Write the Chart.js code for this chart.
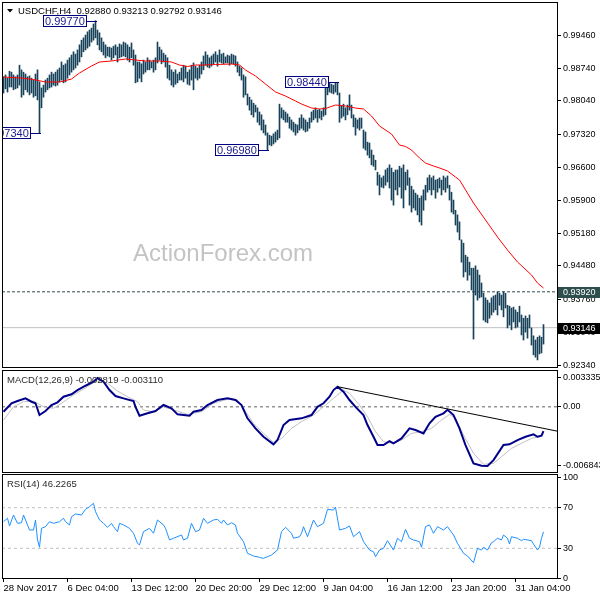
<!DOCTYPE html>
<html>
<head>
<meta charset="utf-8">
<script src="https://cdn.jsdelivr.net/npm/chart.js@4.4.1/dist/chart.umd.min.js"></script>
<style>
  html, body { margin: 0; padding: 0; background: #fff; }
  #wrap { position: relative; width: 600px; height: 600px; overflow: hidden; }
  canvas { position: absolute; left: 0; }
</style>
</head>
<body>
<div id="wrap">
  <canvas id="price" width="600" height="370" style="top:0"></canvas>
  <canvas id="macd" width="600" height="105" style="top:369px"></canvas>
  <canvas id="rsi" width="600" height="127" style="top:473px"></canvas>
</div>
<script>
// USDCHF H4, one bar every 4 hours
const symbol = 'USDCHF,H4';
const lastBar = [0.92880, 0.93213, 0.92792, 0.93146]; // open high low close

const highs = [
  0.9856, 0.9860, 0.9853, 0.9868, 0.9866, 0.9860, 0.9856, 0.9860, 0.9881, 0.9871,
  0.9866, 0.9862, 0.9856, 0.9858, 0.9853, 0.9849, 0.9862, 0.9871, 0.9845, 0.9832,
  0.9838, 0.9849, 0.9853, 0.9860, 0.9866, 0.9862, 0.9866, 0.9871, 0.9875, 0.9888,
  0.9881, 0.9884, 0.9892, 0.9897, 0.9903, 0.9910, 0.9905, 0.9914, 0.9925, 0.9935,
  0.9940, 0.9946, 0.9953, 0.9957, 0.9961, 0.9970, 0.9977, 0.9957, 0.9951, 0.9940,
  0.9931, 0.9925, 0.9920, 0.9920, 0.9918, 0.9922, 0.9925, 0.9920, 0.9927, 0.9925,
  0.9931, 0.9929, 0.9925, 0.9920, 0.9929, 0.9914, 0.9903, 0.9888, 0.9888, 0.9884,
  0.9892, 0.9888, 0.9897, 0.9892, 0.9888, 0.9892, 0.9897, 0.9931, 0.9920, 0.9914,
  0.9907, 0.9903, 0.9897, 0.9881, 0.9871, 0.9866, 0.9871, 0.9862, 0.9866, 0.9875,
  0.9881, 0.9879, 0.9866, 0.9871, 0.9881, 0.9886, 0.9879, 0.9875, 0.9881, 0.9888,
  0.9901, 0.9910, 0.9903, 0.9897, 0.9901, 0.9905, 0.9910, 0.9903, 0.9914, 0.9905,
  0.9907, 0.9899, 0.9903, 0.9901, 0.9905, 0.9903, 0.9901, 0.9888, 0.9879, 0.9875,
  0.9860, 0.9856, 0.9819, 0.9812, 0.9806, 0.9799, 0.9795, 0.9789, 0.9780, 0.9774,
  0.9763, 0.9752, 0.9735, 0.9730, 0.9728, 0.9733, 0.9737, 0.9741, 0.9797, 0.9789,
  0.9784, 0.9780, 0.9776, 0.9769, 0.9763, 0.9758, 0.9754, 0.9752, 0.9767, 0.9774,
  0.9767, 0.9763, 0.9758, 0.9767, 0.9780, 0.9784, 0.9789, 0.9784, 0.9786, 0.9782,
  0.9789, 0.9832, 0.9840, 0.9843, 0.9840, 0.9838, 0.9843, 0.9844, 0.9821, 0.9793,
  0.9797, 0.9789, 0.9795, 0.9817, 0.9795, 0.9774, 0.9767, 0.9763, 0.9767, 0.9767,
  0.9741, 0.9737, 0.9715, 0.9713, 0.9698, 0.9687, 0.9676, 0.9650, 0.9644, 0.9638,
  0.9642, 0.9655, 0.9659, 0.9666, 0.9659, 0.9650, 0.9655, 0.9655, 0.9663, 0.9659,
  0.9666, 0.9650, 0.9655, 0.9638, 0.9620, 0.9612, 0.9605, 0.9601, 0.9594, 0.9599,
  0.9612, 0.9622, 0.9638, 0.9644, 0.9638, 0.9642, 0.9633, 0.9635, 0.9638, 0.9633,
  0.9642, 0.9638, 0.9642, 0.9622, 0.9607, 0.9590, 0.9568, 0.9558, 0.9543, 0.9504,
  0.9497, 0.9471, 0.9467, 0.9456, 0.9443, 0.9443, 0.9448, 0.9439, 0.9428, 0.9411,
  0.9389, 0.9379, 0.9374, 0.9368, 0.9379, 0.9383, 0.9385, 0.9392, 0.9389, 0.9385,
  0.9392, 0.9389, 0.9363, 0.9361, 0.9357, 0.9359, 0.9353, 0.9348, 0.9361, 0.9342,
  0.9335, 0.9340, 0.9335, 0.9342, 0.9314, 0.9297, 0.9288, 0.9294, 0.9297, 0.9294,
  0.93213
];
const lows = [
  0.9821, 0.9830, 0.9823, 0.9834, 0.9834, 0.9828, 0.9830, 0.9832, 0.9838, 0.9812,
  0.9817, 0.9828, 0.9823, 0.9817, 0.9821, 0.9812, 0.9815, 0.9806, 0.9734, 0.9789,
  0.9812, 0.9823, 0.9828, 0.9832, 0.9834, 0.9838, 0.9836, 0.9838, 0.9845, 0.9849,
  0.9843, 0.9845, 0.9853, 0.9860, 0.9866, 0.9871, 0.9875, 0.9881, 0.9888, 0.9899,
  0.9910, 0.9914, 0.9918, 0.9922, 0.9931, 0.9935, 0.9940, 0.9925, 0.9914, 0.9910,
  0.9903, 0.9897, 0.9901, 0.9899, 0.9892, 0.9897, 0.9903, 0.9888, 0.9897, 0.9899,
  0.9901, 0.9899, 0.9892, 0.9888, 0.9897, 0.9881, 0.9843, 0.9845, 0.9853, 0.9845,
  0.9862, 0.9866, 0.9871, 0.9871, 0.9875, 0.9866, 0.9871, 0.9886, 0.9892, 0.9884,
  0.9888, 0.9877, 0.9853, 0.9849, 0.9838, 0.9834, 0.9840, 0.9843, 0.9849, 0.9849,
  0.9845, 0.9853, 0.9840, 0.9838, 0.9849, 0.9828, 0.9853, 0.9849, 0.9853, 0.9862,
  0.9871, 0.9881, 0.9877, 0.9875, 0.9879, 0.9884, 0.9888, 0.9879, 0.9888, 0.9886,
  0.9884, 0.9886, 0.9886, 0.9881, 0.9884, 0.9884, 0.9879, 0.9866, 0.9858, 0.9849,
  0.9812, 0.9817, 0.9795, 0.9784, 0.9774, 0.9769, 0.9780, 0.9758, 0.9752, 0.9741,
  0.9735, 0.9730, 0.9698, 0.9709, 0.9707, 0.9711, 0.9715, 0.9720, 0.9724, 0.9767,
  0.9763, 0.9758, 0.9758, 0.9745, 0.9741, 0.9737, 0.9730, 0.9735, 0.9741, 0.9745,
  0.9741, 0.9737, 0.9739, 0.9745, 0.9758, 0.9763, 0.9767, 0.9758, 0.9767, 0.9763,
  0.9771, 0.9774, 0.9817, 0.9823, 0.9821, 0.9819, 0.9823, 0.9817, 0.9758, 0.9767,
  0.9771, 0.9763, 0.9774, 0.9784, 0.9767, 0.9748, 0.9730, 0.9745, 0.9741, 0.9745,
  0.9702, 0.9698, 0.9687, 0.9681, 0.9666, 0.9663, 0.9655, 0.9622, 0.9601, 0.9618,
  0.9616, 0.9622, 0.9629, 0.9616, 0.9590, 0.9579, 0.9612, 0.9601, 0.9618, 0.9594,
  0.9573, 0.9612, 0.9622, 0.9579, 0.9564, 0.9573, 0.9568, 0.9558, 0.9543, 0.9536,
  0.9568, 0.9590, 0.9607, 0.9612, 0.9601, 0.9612, 0.9594, 0.9607, 0.9616, 0.9601,
  0.9612, 0.9607, 0.9616, 0.9590, 0.9564, 0.9560, 0.9536, 0.9521, 0.9504, 0.9456,
  0.9424, 0.9435, 0.9417, 0.9428, 0.9396, 0.9290, 0.9385, 0.9374, 0.9379, 0.9381,
  0.9331, 0.9327, 0.9325, 0.9335, 0.9342, 0.9348, 0.9353, 0.9342, 0.9363, 0.9353,
  0.9338, 0.9357, 0.9314, 0.9320, 0.9310, 0.9327, 0.9314, 0.9316, 0.9327, 0.9299,
  0.9288, 0.9305, 0.9292, 0.9314, 0.9277, 0.9256, 0.9251, 0.9245, 0.9258, 0.9260,
  0.92792
];

// red moving average, read at some bars
const maIdx = [0, 9, 15, 21, 28, 34, 38, 44, 48, 54, 61, 66, 71, 78, 84, 88, 92, 96, 101, 106,
  114, 118, 121, 126, 131, 136, 141, 146, 149, 154, 158, 161, 166, 171, 176, 180, 184, 188, 194, 198,
  201, 204, 208, 211, 215, 218, 222, 226, 228, 235, 241, 247, 252, 257, 264, 267, 270];
const maVal = [0.98555, 0.98534, 0.98501, 0.98447, 0.98447, 0.98512, 0.98642, 0.98793, 0.98879, 0.98901,
  0.98944, 0.98922, 0.98901, 0.98901, 0.98879, 0.98814, 0.98782, 0.98814, 0.98814, 0.98825,
  0.98836, 0.98814, 0.98706, 0.98577, 0.98404, 0.98232, 0.98145, 0.98037, 0.97973, 0.97886,
  0.97865, 0.97876, 0.97951, 0.97930, 0.97886, 0.97865, 0.97714, 0.97498, 0.97325, 0.97088,
  0.97056, 0.96980, 0.96807, 0.96699, 0.96635, 0.96592, 0.96527, 0.96397, 0.96333, 0.95836,
  0.95470, 0.95102, 0.94822, 0.94563, 0.94283, 0.94110, 0.94002];

// marked highs / lows
const markIdx = [46, 18, 132, 167];
const markPrice = [0.99770, 0.97340, 0.96980, 0.98440];

// horizontal levels: support line and last price
const levels = [0.93920, 0.93146];
const priceTicks = [0.92340, 0.93040, 0.93760, 0.94480, 0.95180, 0.95900, 0.96600, 0.97320, 0.98040, 0.98740, 0.99460];

// MACD(12,26,9)
const macdIdx = [0, 4, 7, 11, 14, 16, 18, 21, 24, 27, 30, 34, 37, 41, 45, 47, 50, 53, 56, 60,
  65, 66, 68, 72, 76, 80, 84, 87, 93, 95, 99, 102, 107, 112, 116, 119, 122, 126, 130, 135,
  137, 140, 143, 149, 154, 157, 160, 163, 165, 167, 170, 173, 176, 180, 182, 185, 187, 190, 193, 195,
  199, 203, 206, 210, 213, 216, 220, 222, 225, 228, 231, 235, 239, 242, 245, 250, 253, 257, 261, 265,
  267, 269, 270];
const macdMain = [-0.00057, 0.00041, 0.00067, 0.00098, 0.00059, 0.00041, -0.00095, -0.00049, 0.00021, 0.00052,
  0.00117, 0.00145, 0.00194, 0.00244, 0.00290, 0.00333, 0.00290, 0.00194, 0.00125, 0.00098,
  0.00067, 0.00000, -0.00103, -0.00075, -0.00049, 0.00021, -0.00017, -0.00087, -0.00103, -0.00057,
  -0.00037, 0.00021, 0.00079, 0.00098, 0.00079, 0.00021, -0.00133, -0.00249, -0.00346, -0.00434,
  -0.00384, -0.00211, -0.00153, -0.00133, -0.00095, 0.00000, 0.00041, 0.00117, 0.00194, 0.00233,
  0.00175, 0.00079, 0.00000, -0.00095, -0.00211, -0.00346, -0.00442, -0.00442, -0.00396, -0.00422,
  -0.00365, -0.00249, -0.00268, -0.00307, -0.00191, -0.00115, -0.00075, -0.00035, -0.00095, -0.00249,
  -0.00442, -0.00654, -0.00682, -0.00684, -0.00616, -0.00442, -0.00434, -0.00384, -0.00346, -0.00318,
  -0.00346, -0.00334, -0.002819];
const sigIdx = [0, 5, 10, 15, 20, 25, 29, 35, 42, 47, 52, 57, 62, 67, 70, 75, 80, 85, 92, 99,
  105, 112, 117, 120, 125, 130, 135, 139, 144, 149, 155, 160, 165, 170, 173, 178, 182, 186, 190, 195,
  199, 204, 209, 214, 219, 223, 226, 230, 235, 240, 245, 249, 254, 259, 264, 268, 270];
const sigVal = [-0.00153, 0.0, 0.00059, 0.00067, 0.0, -0.00017, 0.00041, 0.00137, 0.00233, 0.00310,
  0.00272, 0.00183, 0.00117, 0.00059, -0.00037, -0.00057, 0.0, -0.00037, -0.00087, -0.00057,
  0.00041, 0.00087, 0.00079, -0.00017, -0.00191, -0.00307, -0.00411, -0.00365, -0.00249, -0.00172,
  -0.00095, 0.0, 0.00098, 0.00194, 0.00156, 0.00021, -0.00115, -0.00288, -0.00404, -0.00422,
  -0.00384, -0.00307, -0.00288, -0.00249, -0.00153, -0.00087, -0.00133, -0.00326, -0.00538, -0.00665,
  -0.00654, -0.00577, -0.00480, -0.00422, -0.00365, -0.00346, -0.003110];
const trendIdx = [167, 277.25];
const trendVal = [0.00233, -0.00283];
const macdTicks = [-0.006843, 0, 0.003335];

// RSI(14)
const rsiIdx = [0, 2, 3, 5, 7, 9, 10, 12, 13, 15, 16, 17, 18, 19, 21, 23, 25, 28, 30, 31,
  33, 34, 36, 39, 41, 43, 45, 46, 48, 50, 52, 54, 55, 57, 58, 60, 63, 65, 67, 68,
  70, 73, 75, 77, 80, 81, 83, 85, 89, 90, 92, 94, 96, 98, 100, 102, 105, 107, 109, 110,
  112, 114, 116, 117, 120, 122, 125, 128, 130, 134, 137, 139, 141, 144, 145, 148, 149, 150, 152, 155,
  157, 160, 162, 165, 166, 168, 171, 173, 175, 176, 178, 180, 183, 185, 186, 188, 190, 192, 195, 197,
  199, 201, 203, 205, 208, 209, 211, 213, 215, 217, 220, 222, 225, 227, 230, 232, 235, 237, 239, 240,
  242, 244, 245, 247, 249, 250, 252, 253, 254, 257, 259, 260, 264, 265, 267, 268, 269, 270];
const rsiVal = [56.2, 59.6, 52, 62.8, 54.6, 55.2, 62.8, 53, 48, 48, 57.9, 38.2, 31, 49.7, 51.3, 56.2, 54.6, 56.2, 59.6, 56.2,
  53, 61.1, 63.8, 62.8, 68.4, 71, 74.3, 66.1, 57.9, 54.6, 50.7, 54.6, 51.3, 46.4, 54.6, 53, 49.7, 44.8, 34.9, 33.3,
  46.4, 49.7, 44.8, 57.9, 53, 49.7, 38.2, 39.9, 43.1, 38.2, 39.9, 54.6, 46.4, 48, 59.6, 54.6, 57.9, 58.6, 54.6, 57.9,
  53, 55.2, 53, 44.8, 36.5, 25.1, 22.4, 21.1, 20.1, 23.4, 28.3, 46.4, 50.7, 44.8, 39.9, 41.4, 44.8, 51.3, 41.4, 57.9,
  51.3, 54.6, 68.4, 67.7, 70.4, 48, 49.7, 52, 41.4, 43.1, 46.4, 36.5, 28.3, 26.6, 21.7, 28.3, 30, 37.5, 28.3, 39.9,
  36.5, 48.7, 39.9, 38.2, 36.5, 31, 51.3, 53, 44.8, 51.3, 48, 51.3, 43.1, 34.9, 25.1, 22.4, 15.8, 30, 28.3, 31,
  28.3, 35.5, 36.5, 39.9, 38.2, 43.1, 39.9, 34.2, 41.4, 39.9, 37.5, 38.9, 37.5, 34.2, 28.3, 31, 39.9, 46.2265];
const rsiLevels = [70, 30];
const rsiTicks = [0, 30, 70, 100];

// time axis
const xTickIdx = [0, 32, 64, 96, 128, 160, 192, 224, 256];
const xTickText = ['28 Nov 2017', '6 Dec 04:00', '13 Dec 12:00', '20 Dec 20:00', '29 Dec 12:00',
  '9 Jan 04:00', '16 Jan 12:00', '23 Jan 20:00', '31 Jan 04:00'];

Chart.defaults.font.family = '"Liberation Sans", Arial, sans-serif';
Chart.defaults.color = '#000';

const X_MIN = -0.75, X_MAX = 277.25; // 2px per bar
const FONT = '"Liberation Sans", Arial, sans-serif';

function xScale(show) {
  return {
    type: 'linear', min: X_MIN, max: X_MAX, offset: false, display: show,
    afterBuildTicks: (s) => { s.ticks = xTickIdx.map((v) => ({ value: v })); },
    afterFit: (s) => {
      s.height = show ? 21 : 0;
      s.paddingLeft = 0;
      s.paddingRight = 0;
    },
    grid: { drawOnChartArea: false, drawTicks: true, tickLength: 3, color: '#000' },
    border: { display: false },
    ticks: {
      autoSkip: false, maxRotation: 0, align: 'start', padding: 1,
      font: { size: 9.5 }, color: '#000',
      callback: (v) => xTickText[xTickIdx.indexOf(v)],
    },
  };
}

function yScale(min, max, ticks, fmt) {
  return {
    position: 'right', min: min, max: max,
    afterBuildTicks: (s) => { s.ticks = ticks.map((v) => ({ value: v })); },
    afterFit: (s) => {
      s.width = 42;
      s.paddingTop = 0;
      s.paddingBottom = 0;
    },
    grid: { drawOnChartArea: false, drawTicks: true, tickLength: 3, color: '#000' },
    border: { display: false },
    ticks: { padding: 2, font: { size: 9 }, color: '#000', callback: fmt },
  };
}

function hLine(y, color, dash) {
  return {
    type: 'line', data: [{ x: X_MIN, y: y }, { x: X_MAX, y: y }],
    borderColor: color, borderWidth: 1, borderDash: dash, pointRadius: 0, order: 5,
  };
}

function pairs(idx, vals) {
  return idx.map((x, k) => ({ x: x, y: vals[k] }));
}

// black frame round each panel, plus the panel caption
function framePlugin(caption) {
  return {
    id: 'frame',
    afterDraw(chart) {
      const ctx = chart.ctx, a = chart.chartArea;
      ctx.save();
      ctx.strokeStyle = '#000';
      ctx.lineWidth = 1;
      ctx.strokeRect(a.left + 0.5, a.top + 0.5, a.right - a.left - 1, a.bottom - a.top - 1);
      if (caption) {
        ctx.fillStyle = '#2b2b2b';
        ctx.font = '9.5px ' + FONT;
        ctx.textBaseline = 'middle';
        ctx.fillText(caption, a.left + 5, a.top + 10);
      }
      ctx.restore();
    },
  };
}

const priceDecor = {
  id: 'priceDecor',
  beforeDatasetsDraw(chart) {
    const ctx = chart.ctx;
    ctx.save();
    ctx.fillStyle = '#c4c4c4';
    ctx.font = '24px ' + FONT;
    ctx.textBaseline = 'alphabetic';
    ctx.fillText('ActionForex.com', 133, 261);
    ctx.restore();
  },
  afterDatasetsDraw(chart) {
    const ctx = chart.ctx, a = chart.chartArea;
    const xs = chart.scales.x, ys = chart.scales.y;
    ctx.save();
    ctx.beginPath();
    ctx.rect(a.left + 1, a.top + 1, a.right - a.left - 2, a.bottom - a.top - 2);
    ctx.clip();
    ctx.font = '11px ' + FONT;
    ctx.textBaseline = 'middle';
    markIdx.forEach((idx, k) => {
      const px = Math.round(xs.getPixelForValue(idx));
      const py = Math.round(ys.getPixelForValue(markPrice[k]));
      const txt = markPrice[k].toFixed(5);
      const w = Math.ceil(ctx.measureText(txt).width) + 4;
      const right = px - 9;
      ctx.fillStyle = '#fff';
      ctx.fillRect(right - w, py - 6, w, 12);
      ctx.strokeStyle = '#000080';
      ctx.lineWidth = 1;
      ctx.strokeRect(right - w + 0.5, py - 5.5, w - 1, 11);
      ctx.beginPath();
      ctx.moveTo(right, py + 0.5);
      ctx.lineTo(px + 1, py + 0.5);
      ctx.stroke();
      ctx.fillStyle = '#1a1a8c';
      ctx.fillText(txt, right - w + 2, py + 0.5);
    });
    ctx.restore();
  },
  afterDraw(chart) {
    const ctx = chart.ctx, a = chart.chartArea, ys = chart.scales.y;
    ctx.save();
    // caption with the last bar
    ctx.fillStyle = '#000';
    ctx.beginPath();
    ctx.moveTo(7, 9); ctx.lineTo(13, 9); ctx.lineTo(10, 12.5); ctx.closePath();
    ctx.fill();
    ctx.font = '9.5px ' + FONT;
    ctx.textBaseline = 'middle';
    ctx.fillText(symbol + '  ' + lastBar.map((v) => v.toFixed(5)).join(' '), 18, 11);
    // price tags on the axis
    const tagBg = ['#2f4f4f', '#000'];
    ctx.font = '9px ' + FONT;
    levels.forEach((lv, k) => {
      const py = Math.round(ys.getPixelForValue(lv));
      ctx.fillStyle = tagBg[k];
      ctx.fillRect(a.right, py - 5, 42, 11);
      ctx.fillStyle = '#fff';
      ctx.fillText(lv.toFixed(5), a.right + 5, py + 0.5);
    });
    ctx.restore();
  },
};

new Chart(document.getElementById('price'), {
  type: 'bar',
  data: {
    datasets: [
      hLine(levels[0], '#2f4f4f', [3, 2]),
      hLine(levels[1], '#c0c0c0', []),
      {
        type: 'bar',
        data: highs.map((h, i) => ({ x: i, y: [lows[i], h] })),
        backgroundColor: '#17425a',
        barThickness: 1,
        borderWidth: 0,
        order: 2,
      },
      {
        type: 'line',
        data: pairs(maIdx, maVal),
        borderColor: '#ff0000',
        borderWidth: 1,
        pointRadius: 0,
        tension: 0,
        order: 1,
      },
    ],
  },
  options: {
    responsive: false,
    animation: false,
    devicePixelRatio: 1,
    layout: { padding: { left: 2, top: 2, bottom: 2, right: 0 } },
    plugins: { legend: { display: false }, tooltip: { enabled: false } },
    scales: {
      x: xScale(false),
      y: yScale(0.92276, 1.00174, priceTicks, (v) => v.toFixed(5)),
    },
  },
  plugins: [framePlugin(null), priceDecor],
});

new Chart(document.getElementById('macd'), {
  type: 'line',
  data: {
    datasets: [
      hLine(0, '#606060', [3, 3]),
      { data: pairs(sigIdx, sigVal), borderColor: '#c0c0c0', borderWidth: 1, pointRadius: 0, order: 3 },
      { data: pairs(macdIdx, macdMain), borderColor: '#00008b', borderWidth: 2, pointRadius: 0, order: 2 },
      { data: pairs(trendIdx, trendVal), borderColor: '#000', borderWidth: 1, pointRadius: 0, order: 1 },
    ],
  },
  options: {
    responsive: false,
    animation: false,
    devicePixelRatio: 1,
    layout: { padding: { left: 2, top: 1, bottom: 1, right: 0 } },
    plugins: { legend: { display: false }, tooltip: { enabled: false } },
    scales: {
      x: xScale(false),
      y: yScale(-0.007653, 0.00426, macdTicks, (v) => (v === 0 ? '0.00' : v.toFixed(6))),
    },
  },
  plugins: [framePlugin('MACD(12,26,9) ' + macdMain[macdMain.length - 1].toFixed(6) + ' ' + sigVal[sigVal.length - 1].toFixed(6))],
});

new Chart(document.getElementById('rsi'), {
  type: 'line',
  data: {
    datasets: [
      hLine(rsiLevels[0], '#c0c0c0', [3, 3]),
      hLine(rsiLevels[1], '#c0c0c0', [3, 3]),
      { data: pairs(rsiIdx, rsiVal), borderColor: '#1e90ff', borderWidth: 1, pointRadius: 0, order: 1 },
    ],
  },
  options: {
    responsive: false,
    animation: false,
    devicePixelRatio: 1,
    layout: { padding: { left: 2, top: 1, bottom: 0, right: 0 } },
    plugins: { legend: { display: false }, tooltip: { enabled: false } },
    scales: {
      x: xScale(true),
      y: yScale(-0.25, 103.2, rsiTicks, (v) => String(v)),
    },
  },
  plugins: [framePlugin('RSI(14) ' + rsiVal[rsiVal.length - 1].toFixed(4))],
});
</script>
</body>
</html>
